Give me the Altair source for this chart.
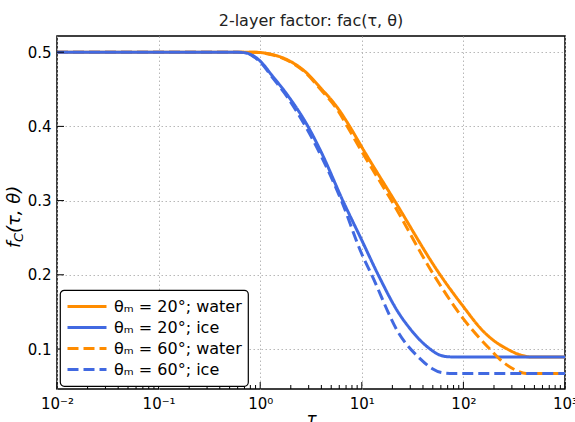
import altair as alt
import pandas as pd

# ---- data ----
labels = ["θₘ = 20°; water", "θₘ = 20°; ice", "θₘ = 60°; water", "θₘ = 60°; ice"]
colors = ["#FF8C00", "#4169E1", "#FF8C00", "#4169E1"]
dashes = [[1, 0], [1, 0], [11, 5], [11, 5]]

tau_w20 = [0.01, 0.1, 0.5, 0.8, 1.0, 1.3, 1.86, 2.73, 3.98, 5.84, 7.6, 10, 21, 59, 100, 155, 210, 270, 359, 470, 1000]
f_w20 = [0.5, 0.5, 0.5, 0.5, 0.4995, 0.497, 0.4895, 0.4746, 0.451, 0.424, 0.40, 0.372, 0.30, 0.20, 0.157, 0.1246, 0.109, 0.10, 0.0922, 0.0892, 0.0892]

tau_i20 = [0.01, 0.1, 0.6, 0.75, 0.88, 1.0, 1.3, 1.86, 2.95, 3.98, 6.5, 10, 14.5, 23.2, 30, 37.4, 47, 57, 72, 90, 1000]
f_i20 = [0.5, 0.5, 0.5, 0.4985, 0.494, 0.488, 0.469, 0.442, 0.40, 0.3655, 0.30, 0.2465, 0.20, 0.148, 0.127, 0.112, 0.1, 0.0925, 0.0895, 0.0892, 0.0892]

tau_w60 = [0.01, 0.1, 0.5, 0.8, 1.0, 1.3, 1.86, 2.73, 3.98, 5.84, 7.2, 10, 19.6, 51, 100, 182, 245, 333, 415, 1000]
f_w60 = [0.5, 0.5, 0.5, 0.5, 0.4995, 0.4965, 0.489, 0.4735, 0.449, 0.421, 0.40, 0.366, 0.30, 0.20, 0.1405, 0.10, 0.0825, 0.071, 0.067, 0.067]

tau_i60 = [0.01, 0.1, 0.6, 0.75, 0.88, 1.0, 1.3, 1.86, 2.9, 3.98, 6.3, 10, 12.5, 23.2, 37.4, 49, 62, 80, 1000]
f_i60 = [0.5, 0.5, 0.5, 0.4985, 0.493, 0.487, 0.467, 0.439, 0.396, 0.36, 0.30, 0.228, 0.20, 0.121, 0.087, 0.0738, 0.068, 0.067, 0.067]

x_ticks = [0.01, 0.1, 1, 10, 100, 1000]
x_minor = [k * 10.0 ** e for e in range(-2, 3) for k in range(2, 10)]
y_ticks = [0.1, 0.2, 0.3, 0.4, 0.5]

W, H = 508, 353

frames = []
for i, (lab, t, f) in enumerate([(labels[0], tau_w20, f_w20), (labels[1], tau_i20, f_i20),
                                 (labels[2], tau_w60, f_w60), (labels[3], tau_i60, f_i60)]):
    frames.append(pd.DataFrame({"tau": t, "f": f, "series": lab, "ord": i}))
df = pd.concat(frames, ignore_index=True)

xscale = alt.Scale(type="log", domain=[0.01, 1000], nice=False)
yscale = alt.Scale(domain=[0.0461, 0.5218], zero=False, nice=False)

xaxis = alt.Axis(
    values=x_ticks, ticks=False, domain=False, grid=True,
    labelExpr="['10⁻²','10⁻¹','10⁰','10¹','10²','10³'][round(log(datum.value)/LN10)+2]",
    labelFontSize=15, labelPadding=7, labelColor="black", labelFlush=False,
    title="τ", titleFontSize=17, titleFontStyle="italic", titleFontWeight="normal",
    titlePadding=0, titleColor="black")
yaxis = alt.Axis(
    values=y_ticks, format=".1f", ticks=False, domain=False, grid=True,
    labelFontSize=15, labelPadding=6, labelColor="black", title="")

lines = alt.Chart(df).mark_line(strokeWidth=3, interpolate="monotone").encode(
    x=alt.X("tau:Q", scale=xscale, axis=xaxis, title="τ"),
    y=alt.Y("f:Q", scale=yscale, axis=yaxis, title=""),
    color=alt.Color("series:N", title=None,
                    scale=alt.Scale(domain=labels, range=colors),
                    legend=alt.Legend(orient="bottom-left")),
    strokeDash=alt.StrokeDash("series:N", title=None,
                              scale=alt.Scale(domain=labels, range=dashes),
                              legend=alt.Legend(orient="bottom-left")),
    order=alt.Order("ord:Q"),
)

xmaj = alt.Chart(pd.DataFrame({"tau": x_ticks})).mark_rule(color="black", strokeWidth=1).encode(
    x=alt.X("tau:Q", scale=xscale, axis=xaxis, title="τ"), y=alt.value(H), y2=alt.value(H - 7))
xmin = alt.Chart(pd.DataFrame({"tau": x_minor})).mark_rule(color="black", strokeWidth=1).encode(
    x=alt.X("tau:Q", scale=xscale, axis=xaxis, title="τ"), y=alt.value(H), y2=alt.value(H - 4))
ymaj = alt.Chart(pd.DataFrame({"f": y_ticks})).mark_rule(color="black", strokeWidth=1).encode(
    y=alt.Y("f:Q", scale=yscale, axis=yaxis, title=""), x=alt.value(0), x2=alt.value(7))

def ytxt(s, y, size, dx):
    return alt.Chart(pd.DataFrame({"s": [s]})).mark_text(
        angle=270, align="left", baseline="alphabetic", fontSize=size,
        fontStyle="italic", font="DejaVu Sans", color="black").encode(
        text="s:N", x=alt.value(dx), y=alt.value(y))

ylab = ytxt("f", 212, 18, -37) + ytxt("C", 206, 13, -34) + ytxt("(τ, θ)", 197, 18, -37)

chart = alt.layer(lines, xmaj, xmin, ymaj, ylab).properties(
    width=W, height=H,
    title=alt.Title("2-layer factor: fac(τ, θ)", fontSize=16, fontWeight="normal",
                    color="#222222", offset=7),
    padding={"left": 57, "top": 36, "right": 10, "bottom": 33},
    autosize=alt.AutoSizeParams(type="none"),
).configure(font="DejaVu Sans").configure_view(
    stroke="black", strokeWidth=1.5
).configure_axis(
    gridColor="#b8b8b8", gridDash=[1.5, 2.5], gridWidth=1, gridOpacity=1
).configure_legend(
    symbolType="stroke", symbolSize=1521, symbolStrokeWidth=3, clipHeight=21,
    labelFontSize=16, labelColor="black", labelFont="DejaVu Sans",
    fillColor="white", strokeColor="black", strokeWidth=1.2, cornerRadius=4,
    padding=6, offset=3, rowPadding=0, labelOffset=6, symbolOpacity=1
)

chart.save("out.html", embed_options={"renderer": "svg", "actions": False})
